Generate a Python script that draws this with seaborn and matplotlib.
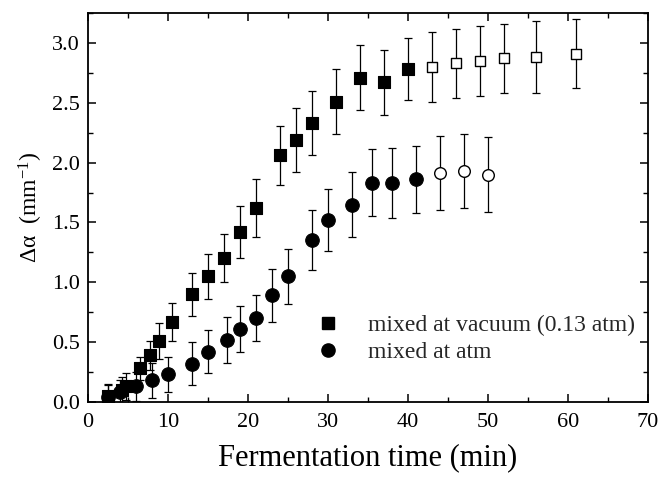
import matplotlib
matplotlib.use("Agg")
import matplotlib.pyplot as plt
from matplotlib.lines import Line2D
from matplotlib.ticker import MultipleLocator
import seaborn as sns
import pandas as pd

# Vacuum-mixed dough: fermentation time (min), absorption change (mm^-1), error
vac_time = [2.5, 4.2, 4.8, 6.5, 7.7, 8.9, 10.5, 13, 15, 17, 19, 21, 24, 26, 28, 31, 34, 37, 40,
            43, 46, 49, 52, 56, 61]
vac_alpha = [0.05, 0.10, 0.13, 0.28, 0.39, 0.51, 0.67, 0.90, 1.05, 1.20, 1.42, 1.62, 2.06, 2.19,
             2.33, 2.51, 2.71, 2.67, 2.78, 2.80, 2.83, 2.85, 2.87, 2.88, 2.91]
vac_err = [0.10, 0.11, 0.11, 0.10, 0.12, 0.15, 0.16, 0.18, 0.19, 0.20, 0.22, 0.24, 0.25, 0.27,
           0.27, 0.27, 0.27, 0.27, 0.26, 0.29, 0.29, 0.29, 0.29, 0.30, 0.29]
vac_filled = [True] * 19 + [False] * 6

# Dough mixed at atmospheric pressure
atm_time = [2.5, 4.0, 6.0, 8.0, 10.0, 13, 15, 17.4, 19, 21, 23, 25, 28, 30, 33, 35.5, 38, 41,
            44, 47, 50]
atm_alpha = [0.04, 0.08, 0.13, 0.18, 0.23, 0.32, 0.42, 0.52, 0.61, 0.70, 0.89, 1.05, 1.35, 1.52,
             1.65, 1.83, 1.83, 1.86, 1.91, 1.93, 1.90]
atm_err = [0.10, 0.10, 0.12, 0.15, 0.15, 0.18, 0.18, 0.19, 0.19, 0.19, 0.22, 0.23, 0.25, 0.26,
           0.27, 0.28, 0.29, 0.28, 0.31, 0.31, 0.31]
atm_filled = [True] * 18 + [False] * 3

x_ticks = [0, 10, 20, 30, 40, 50, 60, 70]
y_ticks = [0.0, 0.5, 1.0, 1.5, 2.0, 2.5, 3.0]
labels = ["mixed at vacuum (0.13 atm)", "mixed at atm"]

sns.set_theme(style="ticks")
plt.rcParams["font.family"] = ["Liberation Serif", "DejaVu Serif"]
plt.rcParams["mathtext.default"] = "regular"

fig, ax = plt.subplots(figsize=(6.65, 4.8), dpi=100)
fig.subplots_adjust(left=0.1323, right=0.9744, top=0.9729, bottom=0.1625)

vac = pd.DataFrame({"t": vac_time, "a": vac_alpha, "e": vac_err, "f": vac_filled})
atm = pd.DataFrame({"t": atm_time, "a": atm_alpha, "e": atm_err, "f": atm_filled})

for df in (vac, atm):
    ax.errorbar(df["t"], df["a"], yerr=df["e"], fmt="none", ecolor="black",
                elinewidth=0.9, capsize=3, capthick=0.9, zorder=2)

def draw(df, marker, size_filled, size_open):
    filled = df[df["f"]]
    hollow = df[~df["f"]]
    sns.scatterplot(data=filled, x="t", y="a", marker=marker, s=size_filled,
                    color="black", edgecolor="black", linewidth=0.8, ax=ax, zorder=3)
    sns.scatterplot(data=hollow, x="t", y="a", marker=marker, s=size_open,
                    color="white", edgecolor="black", linewidth=1.0, ax=ax, zorder=3)

draw(vac, "s", 70, 55)
draw(atm, "o", 95, 70)

ax.set_xlim(0, 70)
ax.set_ylim(0, 3.25)
ax.set_xticks(x_ticks)
ax.set_yticks(y_ticks)
ax.set_yticklabels([f"{v:.1f}" for v in y_ticks])
ax.xaxis.set_minor_locator(MultipleLocator(5))
ax.yaxis.set_minor_locator(MultipleLocator(0.25))
ax.tick_params(which="both", direction="in", top=True, right=True, labelsize=16,
               color="black", labelcolor="black")
ax.tick_params(which="major", length=6, width=1.1)
ax.tick_params(which="minor", length=3.5, width=1.0)
ax.tick_params(axis="x", which="major", pad=8)
ax.tick_params(axis="y", which="major", pad=6)
for sp in ax.spines.values():
    sp.set_linewidth(1.3)
    sp.set_color("black")

ax.set_xlabel("Fermentation time (min)", fontsize=22, labelpad=8, color="black")
ax.set_ylabel("Δα  (mm$^{-1}$)", fontsize=17, labelpad=5, color="black")

handles = [
    Line2D([], [], marker="s", linestyle="none", color="black", markersize=8),
    Line2D([], [], marker="o", linestyle="none", color="black", markersize=9.5),
]
ax.legend(handles, labels, loc="lower left", bbox_to_anchor=(0.386, 0.099),
          frameon=False, fontsize=17, handletextpad=0.72, labelspacing=0.24,
          borderaxespad=0, borderpad=0)

fig.savefig("out.png", dpi=100)
